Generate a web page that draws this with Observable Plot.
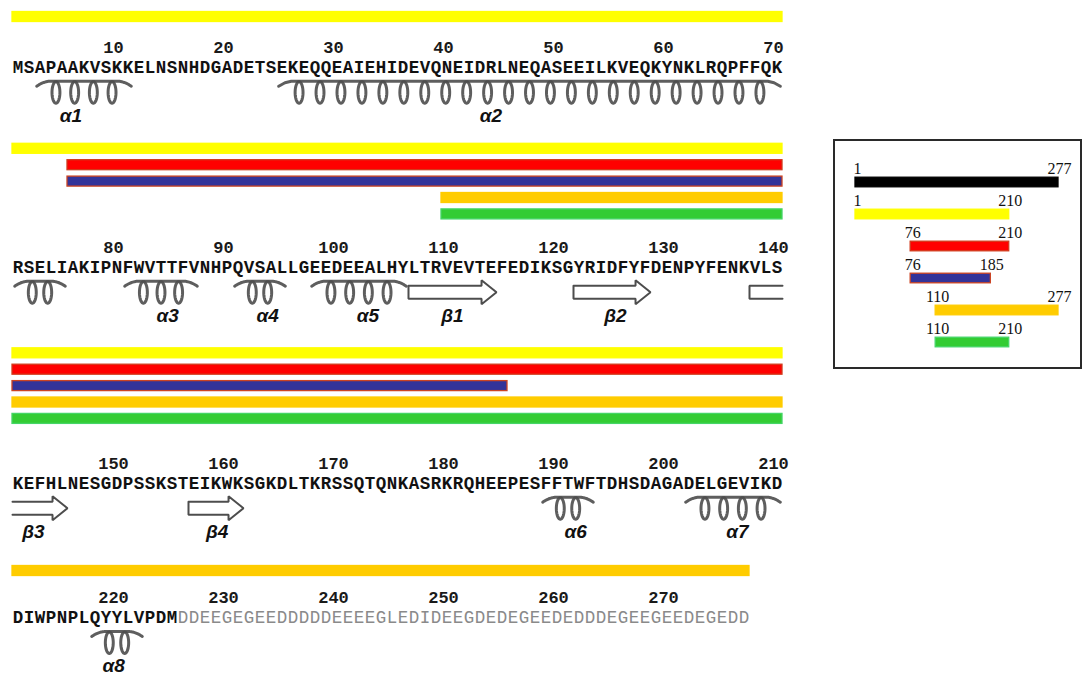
<!DOCTYPE html>
<html>
<head>
<meta charset="utf-8">
<script src="https://cdn.jsdelivr.net/npm/d3@7"></script>
<script src="https://cdn.jsdelivr.net/npm/@observablehq/plot@0.6"></script>
<style>
  html, body { margin: 0; padding: 0; background: #fff; }
  #wrap { position: relative; width: 1084px; height: 675px; overflow: hidden; background: #fff; }
  #main { position: absolute; left: 0; top: 0; }
  #legend { position: absolute; left: 833px; top: 139px; width: 245px; height: 226px; border: 2px solid #2a2a2a; background: #fff; }
  svg { display: block; }
</style>
</head>
<body>
<div id="wrap"><div id="main"></div><div id="legend"></div></div>
<script>
// ---------------- DATA ----------------
const sequence =
  "MSAPAAKVSKKELNSNHDGADETSEKEQQEAIEHIDEVQNEIDRLNEQASEEILKVEQKYNKLRQPFFQK" +
  "RSELIAKIPNFWVTTFVNHPQVSALLGEEDEEALHYLTRVEVTEFEDIKSGYRIDFYFDENPYFENKVLS" +
  "KEFHLNESGDPSSKSTEIKWKSGKDLTKRSSQTQNKASRKRQHEEPESFFTWFTDHSDAGADELGEVIKD" +
  "DIWPNPLQYYLVPDMDDEEGEGEEDDDDDEEEEGLEDIDEEGDEDEGEEDEDDDEGEEGEEDEGEDD";
const acidicTailStart = 226;               // residues from here are drawn light
const tickResidues = [10, 20, 30, 40, 50, 60, 70, 80, 90, 100, 110, 120, 130, 140,
  150, 160, 170, 180, 190, 200, 210, 220, 230, 240, 250, 260, 270];

const constructNames = ["1-277", "1-210", "76-210", "76-185", "110-277", "110-210"];
const constructStart = [1, 1, 76, 76, 110, 110];
const constructEnd   = [277, 210, 210, 185, 277, 210];
const constructOnSequence = [false, true, true, true, true, true];

const helixNames   = ["α1", "α2", "α3", "α4", "α5", "α6", "α7", "α8"];
const helixStart   = [3, 25, 81, 91, 98, 189, 202, 218];
const helixEnd     = [11, 75, 87, 95, 106, 193, 210, 222];
const helixLabelAt = [5.8, 44, 84.6, 93.7, 102.8, 191.7, 206.4, 219.7];

const strandNames   = ["β1", "β2", "β3", "β4"];
const strandStart   = [107, 122, 138, 157];
const strandEnd     = [114, 128, 145, 161];
const strandLabelAt = [110.5, 125.3, 142.4, 159.1];

// ---------------- STYLES ----------------
const constructFill   = ["#000000", "#FFFF00", "#FF0000", "#333399", "#FFCC00", "#33CC33"];
const constructStroke = ["#000000", "#FFFF00", "#D23A1C", "#CC4422", "#FFCC00", "#44D566"];
const ssStroke = "#4d4d4d";
const monoFont = "'Liberation Mono', 'Courier New', monospace";
const sansFont = "'Liberation Sans', Arial, sans-serif";
const serifFont = "'Liberation Serif', 'Times New Roman', serif";

// ---------------- LAYOUT ----------------
const W = 1084, H = 675, perRow = 70;
const rowBarTop = [16.5, 148.3, 352.8, 570.5];
const barStep = 16.4, barHalf = 5;
const rowNumY = [46.7, 246.7, 462.7, 597];
const seqOff = 20, ssOff = 45, labOff = 68.5;

const rowOf = r => Math.floor((r - 1) / perRow);
const colOf = r => ((r - 1) % perRow) + 1;
const seqY = row => rowNumY[row] + seqOff;
const ssY = row => rowNumY[row] + ssOff;
const labY = row => rowNumY[row] + labOff;

function splitRows(s, e) {
  const out = [];
  for (let row = rowOf(s); row <= rowOf(e); row++) {
    const a = Math.max(s, row * perRow + 1), b = Math.min(e, row * perRow + perRow);
    out.push({row, s: a, e: b, c1: colOf(a), c2: colOf(b), first: a === s, last: b === e});
  }
  return out;
}

// residues
const residues = Array.from(sequence, (aa, i) => ({aa, res: i + 1, row: rowOf(i + 1), col: colOf(i + 1)}));
const coreResidues = residues.filter(d => d.res < acidicTailStart);
const tailResidues = residues.filter(d => d.res >= acidicTailStart);

// construct bars along the sequence
const mapBars = [];
for (let row = 0; row < 4; row++) {
  let rank = 0;
  constructNames.forEach((name, i) => {
    if (!constructOnSequence[i]) return;
    const seg = splitRows(constructStart[i], constructEnd[i]).find(g => g.row === row);
    if (!seg) return;
    mapBars.push({...seg, name, fill: constructFill[i], stroke: constructStroke[i], y: rowBarTop[row] + rank * barStep});
    rank++;
  });
}

// helix glyphs: a top arch with narrow loops hanging below it
const helixArch = [], helixLoops = [];
const archTop = 11, archCurl = 5, loopRx = 0.36, loopTop = 10.5, loopBottom = 11;
helixNames.forEach((name, i) => {
  splitRows(helixStart[i], helixEnd[i]).forEach((g, k) => {
    const len = g.e - g.s + 1;
    const n = Math.max(1, Math.round(len / 2 - 1 / 3));
    const y0 = ssY(g.row), xs = g.c1 - 0.3, xe = g.c2 + 0.3, id = name + "-" + k;
    const M = 80;
    for (let j = 0; j <= M; j++) {
      const u = j / M, x = xs + (xe - xs) * u;
      const dEnd = Math.min(x - xs, xe - x);          // residues from nearest end
      const curl = Math.max(0, 1 - dEnd / 1.3);
      helixArch.push({id, x, y: y0 - archTop + archCurl * curl * curl});
    }
    const inset = 0.9, step = (xe - xs - 2 * inset) / n;
    for (let m = 0; m < n; m++) {
      const xc = xs + inset + step * (m + 0.5);
      const cy = y0 + (loopBottom - loopTop) / 2, ry = (loopBottom + loopTop) / 2;
      for (let j = 0; j <= 40; j++) {
        const t = -Math.PI / 2 + 2 * Math.PI * j / 40;
        helixLoops.push({id: id + "-" + m, x: xc + loopRx * Math.cos(t), y: cy + ry * Math.sin(t)});
      }
    }
  });
});

// strand arrows
const strandPts = [];
const bodyH = 6.5, headH = 12, headL = 1.36;
strandNames.forEach((name, i) => {
  splitRows(strandStart[i], strandEnd[i]).forEach((g, k) => {
    const y = ssY(g.row), xs = g.c1 - 0.5, xe = g.c2 + 0.5, id = name + "-" + k;
    let pts;
    if (g.last) {
      pts = [[xs, y - bodyH], [xe - headL, y - bodyH], [xe - headL, y - headH], [xe, y],
             [xe - headL, y + headH], [xe - headL, y + bodyH], [xs, y + bodyH]];
      if (g.first) pts.push([xs, y - bodyH]);
    } else {
      pts = [[xe, y - bodyH], [xs, y - bodyH], [xs, y + bodyH], [xe, y + bodyH]];
    }
    pts.forEach(([x, yy]) => strandPts.push({id, x, y: yy}));
  });
});

// secondary-structure labels
const ssLabels = [
  ...helixNames.map((name, i) => ({name, at: helixLabelAt[i]})),
  ...strandNames.map((name, i) => ({name, at: strandLabelAt[i]}))
];

// ---------------- MAIN PLOT ----------------
const main = Plot.plot({
  width: W, height: H,
  marginLeft: 12, marginRight: 302, marginTop: 0, marginBottom: 0,
  x: {domain: [0.5, perRow + 0.5], axis: null},
  y: {domain: [0, H], range: [0, H], axis: null},
  color: {type: "identity"},
  marks: [
    Plot.rect(mapBars, {
      x1: d => d.c1 - 0.5, x2: d => d.c2 + 0.5,
      y1: d => d.y - barHalf, y2: d => d.y + barHalf,
      fill: "fill", stroke: "stroke", strokeWidth: 1.3
    }),
    Plot.text(tickResidues, {
      x: r => colOf(r), y: r => rowNumY[rowOf(r)], text: r => String(r), dx: -3.5,
      fontFamily: monoFont, fontWeight: "bold", fontSize: 17, fill: "#1a1a1a"
    }),
    Plot.text(coreResidues, {
      x: "col", y: d => seqY(d.row), text: "aa",
      fontFamily: monoFont, fontWeight: "bold", fontSize: 17.5, fill: "#111"
    }),
    Plot.text(tailResidues, {
      x: "col", y: d => seqY(d.row), text: "aa",
      fontFamily: monoFont, fontWeight: "normal", fontSize: 17.5, fill: "#8a8a8a"
    }),
    Plot.line(helixLoops, {
      x: "x", y: "y", z: "id", stroke: ssStroke, strokeWidth: 3, curve: "linear", strokeOpacity: 0.9
    }),
    Plot.line(helixArch, {
      x: "x", y: "y", z: "id", stroke: ssStroke, strokeWidth: 3, curve: "linear", strokeLinecap: "round", strokeOpacity: 0.9
    }),
    Plot.line(strandPts, {
      x: "x", y: "y", z: "id", stroke: ssStroke, strokeWidth: 2, curve: "linear", strokeLinejoin: "miter"
    }),
    Plot.text(ssLabels, {
      x: d => colOf(d.at), y: d => labY(rowOf(d.at)), text: "name",
      fontFamily: sansFont, fontStyle: "italic", fontWeight: "bold", fontSize: 19, fill: "#111"
    })
  ]
});
document.getElementById("main").appendChild(main);

// ---------------- LEGEND PLOT ----------------
const constructs = constructNames.map((name, i) => ({
  name, start: constructStart[i], end: constructEnd[i], fill: constructFill[i], stroke: constructStroke[i]
}));
const legend = Plot.plot({
  width: 245, height: 226,
  marginLeft: 20, marginRight: 22, marginTop: 0, marginBottom: 0,
  x: {domain: [1, 277], axis: null},
  y: {type: "band", domain: constructNames, range: [24.9, 218.1], padding: 0, axis: null},
  color: {type: "identity"},
  marks: [
    Plot.barX(constructs, {
      y: "name", x1: "start", x2: "end", fill: "fill", stroke: "stroke", strokeWidth: 1.3,
      insetTop: 11.2, insetBottom: 11.2
    }),
    Plot.text(constructs, {
      y: "name", x: "start", text: d => String(d.start), dy: -14, dx: 2,
      fontFamily: serifFont, fontSize: 16, fill: "#111"
    }),
    Plot.text(constructs, {
      y: "name", x: "end", text: d => String(d.end), dy: -14, dx: 1,
      fontFamily: serifFont, fontSize: 16, fill: "#111"
    })
  ]
});
document.getElementById("legend").appendChild(legend);
</script>
</body>
</html>
